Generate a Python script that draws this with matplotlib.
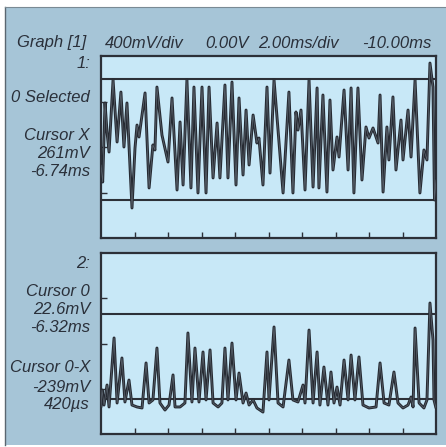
import matplotlib
matplotlib.use("Agg")
import matplotlib.pyplot as plt
from matplotlib.patches import Rectangle
from matplotlib.lines import Line2D

# ---- data (time in ms, voltage in mV) ----
t1 = [-10.00, -9.90, -9.76, -9.64, -9.52, -9.28, -9.04, -8.81, -8.63, -8.45,
      -8.15, -7.97, -7.85, -7.73, -7.37, -7.13, -6.90, -6.78, -6.66, -6.36,
      -6.00, -5.76, -5.46, -5.28, -5.10, -4.87, -4.63, -4.45, -4.21, -3.97,
      -3.73, -3.55, -3.31, -3.07, -2.90, -2.60, -2.42, -2.18, -1.94, -1.76,
      -1.52, -1.34, -1.16, -0.92, -0.69, -0.57, -0.33, -0.09, 0.09, 0.33,
      0.87, 1.22, 1.46, 1.64, 1.76, 1.94, 2.18, 2.42, 2.66, 2.90,
      3.01, 3.25, 3.49, 3.67, 3.85, 4.09, 4.21, 4.51, 4.75, 4.93,
      5.10, 5.34, 5.58, 5.82, 6.00, 6.24, 6.54, 6.66, 6.84, 7.07,
      7.19, 7.43, 7.61, 7.91, 8.03, 8.33, 8.51, 8.75, 9.04, 9.28,
      9.46, 9.64, 9.82, 9.91, 10.00]
v1 = [-158, -308, 387, 132, -44, 589, 44, 483, 0, 387,
      -536, -9, 193, 88, 475, -360, 18, -26, 527, 105,
      -132, 431, -378, 220, -334, 589, -360, 527, -404, 527,
      -404, 527, -272, 211, -272, 545, -272, 571, -334, 431,
      -246, 325, -158, 281, 35, 79, -334, 527, -229, 589,
      -404, 483, -404, 308, 149, 325, -378, 589, -352, 519,
      -360, 457, -396, 413, -202, 88, -88, 501, -202, 519,
      -404, 519, -290, 176, 79, 167, 35, 457, -396, 176,
      -114, 440, -202, 237, -114, 325, -88, 589, -404, -26,
      -114, 738, 527, -466, -290]

t2 = [-10.00, -9.94, -9.82, -9.64, -9.52, -9.22, -9.04, -8.75, -8.57, -8.33,
      -8.15, -7.85, -7.55, -7.31, -7.13, -6.90, -6.66, -6.48, -6.18, -5.94,
      -5.70, -5.58, -5.28, -4.99, -4.81, -4.57, -4.39, -4.15, -3.91, -3.73,
      -3.49, -3.31, -3.01, -2.78, -2.60, -2.42, -2.18, -1.94, -1.76, -1.52,
      -1.34, -1.16, -0.92, -0.69, -0.33, -0.09, 0.03, 0.33, 0.57, 0.87,
      1.22, 1.46, 1.76, 2.06, 2.18, 2.42, 2.66, 2.90, 3.07, 3.31,
      3.55, 3.73, 3.91, 4.09, 4.27, 4.51, 4.75, 4.93, 5.16, 5.40,
      5.64, 6.00, 6.42, 6.66, 6.90, 7.19, 7.49, 7.73, 8.03, 8.33,
      8.51, 8.63, 8.75, 8.99, 9.28, 9.46, 9.64, 9.82, 9.88, 10.00]
v2 = [-561, -411, -544, -367, -561, 49, -526, -128, -517, -323,
      -544, -561, -570, -172, -526, -499, -40, -526, -588, -544,
      -278, -561, -561, -526, 93, -517, -40, -517, -75, -499,
      -57, -526, -561, -526, -40, -499, 4, -499, -261, -526,
      -438, -544, -499, -570, -606, -75, -499, 146, -526, -561,
      -146, -499, -517, -367, -526, 119, -526, -75, -544, -208,
      -544, -252, -526, -385, -544, -146, -499, -102, -499, -119,
      -544, -570, -561, -172, -526, -544, -252, -526, -570, -544,
      -473, -561, 137, -526, -570, -499, 358, 31, -499, -570]

cursors1 = [598, -466]
cursors2 = [261, -491]

header = ["Graph [1]", "400mV/div", "0.00V", "2.00ms/div", "-10.00ms"]
header_x = [17, 105, 205, 258, 362]
labels1 = ["1:", "0 Selected", "Cursor X", "261mV", "-6.74ms"]
labels1_y = [63, 97, 135, 154, 172]
labels2 = ["2:", "Cursor 0", "22.6mV", "-6.32ms", "Cursor 0-X", "-239mV", "420\u00b5s"]
labels2_y = [263, 292, 310, 327, 368, 387, 404]

# ---- styling ----
W, H = 446, 447
outer_bg = "#a6c5d7"
panel_bg = "#c8e8f7"
dark = "#2c3038"
text_col = "#2a303a"
font = "Liberation Sans"

fig = plt.figure(figsize=(W / 100, H / 100), dpi=100)
fig.patch.set_facecolor("white")
fig.add_artist(Rectangle((5 / W, 2 / H), 1 - 5 / W, 1 - 9 / H,
                         transform=fig.transFigure, facecolor=outer_bg,
                         edgecolor="none", zorder=0))
fig.add_artist(Line2D([5 / W, 5 / W], [2 / H, 1 - 7 / H], transform=fig.transFigure,
                      color="#5a6670", lw=1.0))
fig.add_artist(Line2D([5 / W, 1], [1 - 7 / H, 1 - 7 / H], transform=fig.transFigure,
                      color="#7a8a94", lw=0.8))


def px_axes(x0, y0, x1, y1):
    return fig.add_axes([x0 / W, 1 - y1 / H, (x1 - x0) / W, (y1 - y0) / H])


def style(ax):
    ax.set_facecolor(panel_bg)
    ax.set_xlim(-10, 10)
    ax.set_ylim(-800, 800)
    ax.set_xticks([-8, -6, -4, -2, 0, 2, 4, 6, 8])
    ax.set_yticks([-400, 0, 400])
    ax.tick_params(direction="in", length=4, width=1.0, color=dark,
                   labelbottom=False, labelleft=False, top=False, right=False)
    for s in ax.spines.values():
        s.set_color(dark)
        s.set_linewidth(1.6)


def trace(ax, t, v):
    ax.plot(t, v, color="#262a32", lw=2.1, zorder=3,
            solid_joinstyle="round", solid_capstyle="round")
    ax.plot(t, v, color="#8a96a2", lw=0.5, zorder=4, alpha=0.55,
            solid_joinstyle="round")


ax1 = px_axes(101, 56, 436, 238)
style(ax1)
for c in cursors1:
    ax1.axhline(c, color=dark, lw=1.5, zorder=2)
trace(ax1, t1, v1)

ax2 = px_axes(101, 253, 436, 434)
style(ax2)
for c in cursors2:
    ax2.axhline(c, color=dark, lw=1.5, zorder=2)
trace(ax2, t2, v2)

fs = 12
for s, x in zip(header, header_x):
    fig.text(x / W, 1 - 43 / H, s, fontsize=fs, style="italic", family=font,
             color=text_col, ha="left", va="center")
for s, y in zip(labels1, labels1_y):
    fig.text(90 / W, 1 - y / H, s, fontsize=fs, style="italic", family=font,
             color=text_col, ha="right", va="center")
for s, y in zip(labels2, labels2_y):
    fig.text(90 / W, 1 - y / H, s, fontsize=fs, style="italic", family=font,
             color=text_col, ha="right", va="center")

fig.savefig("out.png", dpi=100, facecolor=fig.get_facecolor())
